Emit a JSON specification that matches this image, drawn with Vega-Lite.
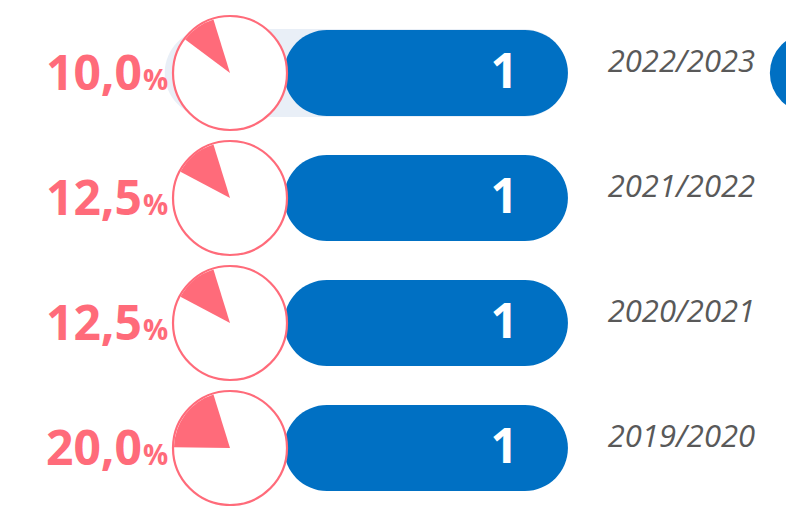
{
  "$schema": "https://vega.github.io/schema/vega-lite/v6.json",
  "width": 786,
  "height": 506,
  "autosize": {"type": "fit", "contains": "padding"},
  "padding": 0,
  "background": "white",
  "config": {
    "view": {"stroke": null},
    "font": "Open Sans",
    "locale": {"number": {"decimal": ",", "thousands": ".", "grouping": [3], "currency": ["", " €"]}}
  },
  "data": {
    "values": [
      {"season": "2022/2023", "count": 1, "pct": 10.0},
      {"season": "2021/2022", "count": 1, "pct": 12.5},
      {"season": "2020/2021", "count": 1, "pct": 12.5},
      {"season": "2019/2020", "count": 1, "pct": 20.0}
    ]
  },
  "encoding": {
    "y": {"field": "season", "type": "nominal", "sort": "descending", "axis": null, "scale": {"type": "point", "range": [73, 448], "padding": 0}}
  },
  "layer": [
    {
      "transform": [{"filter": "datum.season === '2022/2023'"}],
      "mark": {"type": "bar", "height": 88, "cornerRadius": 44, "color": "#E9EFF7"},
      "encoding": {
        "x": {"datum": -0.42, "type": "quantitative", "axis": null, "scale": {"domain": [-1, 1.768], "nice": false, "zero": false}},
        "x2": {"datum": 1.0}
      }
    },
    {
      "mark": {"type": "bar", "height": 86, "cornerRadius": 43, "color": "#0070C3"},
      "encoding": {
        "x": {"field": "count", "type": "quantitative", "axis": null, "scale": {"domain": [-1, 1.768], "nice": false, "zero": false}},
        "x2": {"datum": 0}
      }
    },
    {
      "mark": {"type": "text", "align": "right", "baseline": "middle", "dx": -50, "dy": 1, "fontSize": 48, "fontWeight": "bold", "color": "white"},
      "encoding": {
        "x": {"field": "count", "type": "quantitative", "axis": null, "scale": {"domain": [-1, 1.768], "nice": false, "zero": false}},
        "text": {"field": "count", "type": "quantitative"}
      }
    },
    {
      "mark": {"type": "point", "shape": "circle", "filled": true, "fill": "white", "stroke": "#FF6B7A", "strokeWidth": 2.2, "size": 12996, "opacity": 1},
      "encoding": {
        "x": {"datum": -0.19, "type": "quantitative", "axis": null, "scale": {"domain": [-1, 1.768], "nice": false, "zero": false}}
      }
    },
    {
      "mark": {"type": "arc", "outerRadius": 56, "color": "#FF6B7A"},
      "encoding": {
        "x": {"datum": -0.19, "type": "quantitative", "axis": null, "scale": {"domain": [-1, 1.768], "nice": false, "zero": false}},
        "theta": {"field": "pct", "type": "quantitative", "scale": {"domain": [0, 100], "range": [-0.3, -6.5832], "zero": false, "nice": false}},
        "theta2": {"datum": 0}
      }
    },
    {
      "mark": {"type": "text", "align": "right", "baseline": "alphabetic", "dy": 17, "fontSize": 48, "fontWeight": "bold", "color": "#FF6B7A"},
      "encoding": {
        "x": {"datum": -0.5, "type": "quantitative", "axis": null, "scale": {"domain": [-1, 1.768], "nice": false, "zero": false}},
        "text": {"field": "pct", "type": "quantitative", "format": ".1f"}
      }
    },
    {
      "mark": {"type": "text", "align": "left", "baseline": "alphabetic", "dy": 17, "dx": 1, "fontSize": 28, "fontWeight": "bold", "color": "#FF6B7A", "text": "%"},
      "encoding": {
        "x": {"datum": -0.5, "type": "quantitative", "axis": null, "scale": {"domain": [-1, 1.768], "nice": false, "zero": false}}
      }
    },
    {
      "mark": {"type": "text", "align": "left", "baseline": "middle", "dy": -10, "fontSize": 31, "fontStyle": "italic", "color": "#595959"},
      "encoding": {
        "x": {"datum": 1.14, "type": "quantitative", "axis": null, "scale": {"domain": [-1, 1.768], "nice": false, "zero": false}},
        "text": {"field": "season", "type": "nominal"}
      }
    },
    {
      "transform": [{"filter": "datum.season === '2022/2023'"}],
      "mark": {"type": "point", "shape": "circle", "filled": true, "color": "#0070C3", "size": 6400, "opacity": 1, "clip": true},
      "encoding": {
        "x": {"datum": 1.852, "type": "quantitative", "axis": null, "scale": {"domain": [-1, 1.768], "nice": false, "zero": false}}
      }
    }
  ]
}
